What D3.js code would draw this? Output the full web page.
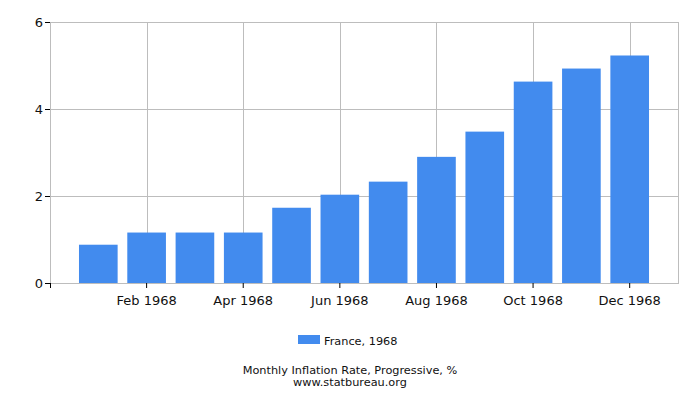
<!DOCTYPE html>
<html>
<head>
<meta charset="utf-8">
<script src="https://cdn.jsdelivr.net/npm/d3@7"></script>
<style>
  body { margin: 0; background: #fff; }
  text { font-family: "DejaVu Sans", sans-serif; }
</style>
</head>
<body>
<script>
// data
const months = ["Jan", "Feb", "Mar", "Apr", "May", "Jun", "Jul", "Aug", "Sep", "Oct", "Nov", "Dec"];
const values = [0.88, 1.16, 1.16, 1.16, 1.73, 2.03, 2.33, 2.90, 3.48, 4.63, 4.93, 5.23];
const tickMonths = ["Feb", "Apr", "Jun", "Aug", "Oct", "Dec"];
const yTicks = [0, 2, 4, 6];
const year = "1968";
const seriesLabel = "France, 1968";
const title = "Monthly Inflation Rate, Progressive, %";
const source = "www.statbureau.org";

const WIDTH = 700;
const HEIGHT = 400;
const MARGINS = { top: 22, right: 22, bottom: 117, left: 50 };
const canvasWidth = WIDTH - MARGINS.left - MARGINS.right;
const canvasHeight = HEIGHT - MARGINS.top - MARGINS.bottom;

const BAR = "#428bee";
const GRID = "#bdbdbd";

const svg = d3.select("body")
	.append("svg")
	.attr("width", WIDTH)
	.attr("height", HEIGHT);

const g = svg.append("g")
	.attr("transform", `translate(${MARGINS.left},${MARGINS.top})`);

// ---- X -------------------------
const xScale = d3.scaleBand()
	.domain(months)
	.range([0, canvasWidth])
	.paddingInner(0.2)
	.paddingOuter(0.6);

// ---- Y -------------------------
const yScale = d3.scaleLinear().domain([0, 6]).range([canvasHeight, 0]);

const xc = m => xScale(m) + xScale.bandwidth() / 2;

// grid
g.append("g")
	.selectAll("line")
	.data(yTicks)
	.join("line")
	.attr("x1", 0)
	.attr("x2", canvasWidth)
	.attr("y1", d => Math.round(yScale(d)) + 0.5)
	.attr("y2", d => Math.round(yScale(d)) + 0.5)
	.attr("stroke", GRID);

g.append("g")
	.selectAll("line")
	.data(tickMonths)
	.join("line")
	.attr("x1", d => Math.round(xc(d)) + 0.5)
	.attr("x2", d => Math.round(xc(d)) + 0.5)
	.attr("y1", 0)
	.attr("y2", canvasHeight)
	.attr("stroke", GRID);

// frame
g.append("rect")
	.attr("x", 0.5)
	.attr("y", 0.5)
	.attr("width", canvasWidth)
	.attr("height", canvasHeight)
	.attr("fill", "none")
	.attr("stroke", GRID);

// bars
g.append("g")
	.selectAll("rect")
	.data(values)
	.join("rect")
	.attr("x", (d, i) => xScale(months[i]))
	.attr("width", xScale.bandwidth())
	.attr("y", d => yScale(d))
	.attr("height", d => canvasHeight - yScale(d))
	.attr("fill", BAR);

// axes
const xAxis = g.append("g")
	.attr("transform", `translate(0,${canvasHeight})`)
	.call(d3.axisBottom(xScale)
		.tickValues(tickMonths)
		.tickSize(5)
		.tickSizeOuter(0)
		.tickFormat(m => `${m} ${year}`));
xAxis.select(".domain").remove();
xAxis.selectAll("line").attr("stroke", "#000");
xAxis.selectAll("text")
	.attr("y", 13)
	.attr("font-size", 13)
	.attr("font-family", "DejaVu Sans")
	.attr("fill", "#111");
// left-end tick under the corner
xAxis.append("line")
	.attr("x1", 0.5).attr("x2", 0.5)
	.attr("y1", 0).attr("y2", 5)
	.attr("stroke", "#000");

const yAxis = g.append("g")
	.call(d3.axisLeft(yScale)
		.tickValues(yTicks)
		.tickSize(5)
		.tickSizeOuter(0)
		.tickFormat(d3.format("d")));
yAxis.select(".domain").remove();
yAxis.selectAll("line").attr("stroke", "#000");
yAxis.selectAll("text")
	.attr("x", -7)
	.attr("font-size", 13)
	.attr("font-family", "DejaVu Sans")
	.attr("fill", "#111");

// legend
const legend = svg.append("g").attr("transform", "translate(298,335)");
legend.append("rect")
	.attr("width", 22)
	.attr("height", 9)
	.attr("fill", BAR);
legend.append("text")
	.attr("x", 26)
	.attr("y", 9.5)
	.attr("font-size", 11.3)
	.attr("fill", "#111")
	.text(seriesLabel);

// caption
svg.append("text")
	.attr("x", WIDTH / 2)
	.attr("y", 374)
	.attr("text-anchor", "middle")
	.attr("font-size", 11.3)
	.attr("fill", "#111")
	.text(title);
svg.append("text")
	.attr("x", WIDTH / 2)
	.attr("y", 385.5)
	.attr("text-anchor", "middle")
	.attr("font-size", 11.3)
	.attr("fill", "#111")
	.text(source);
</script>
</body>
</html>
